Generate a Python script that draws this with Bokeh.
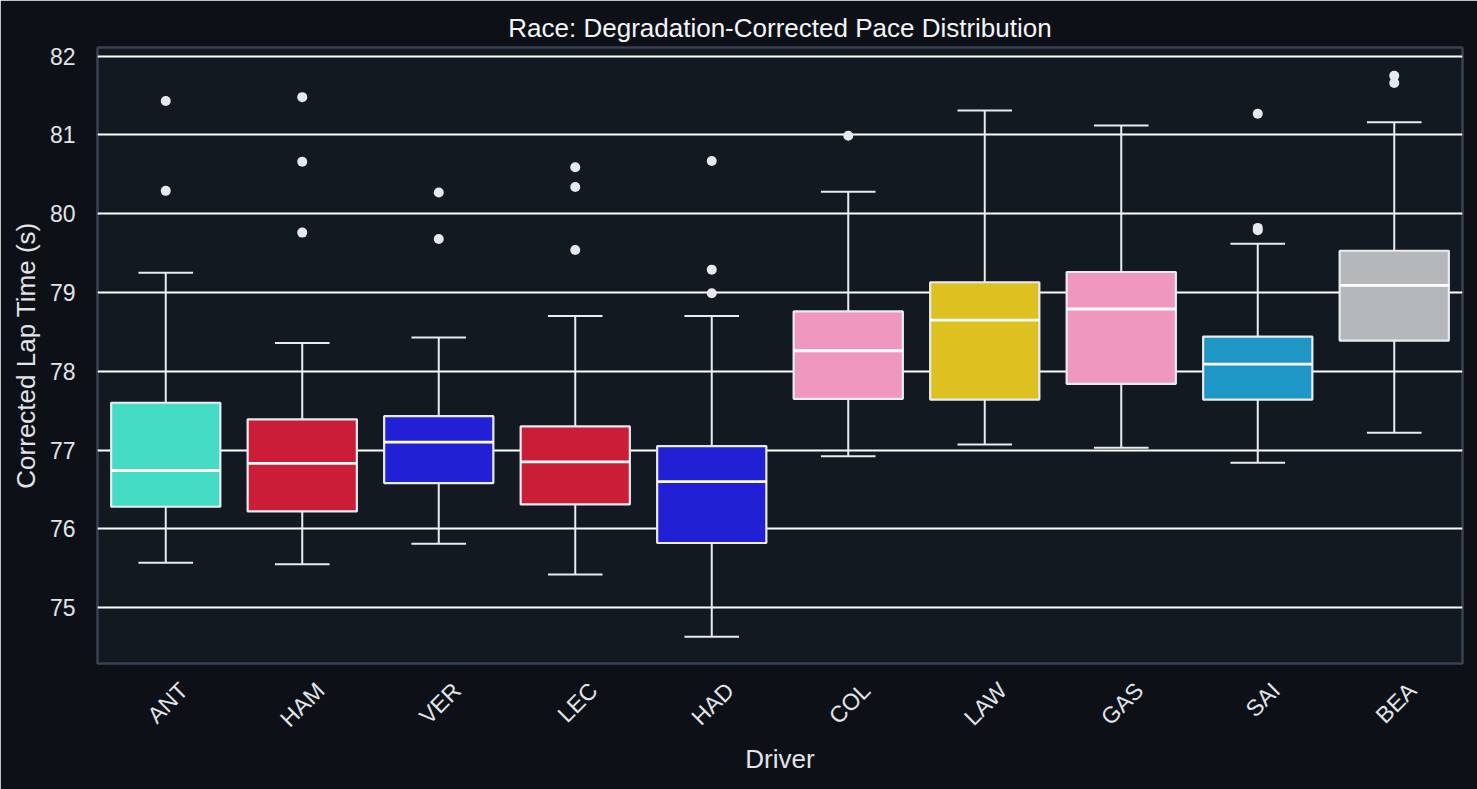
from bokeh.plotting import figure
from bokeh.models import Range1d, LinearAxis, FixedTicker, ColumnDataSource
from bokeh.embed import file_html
from bokeh.resources import INLINE

# ---- data ----
drivers = ["ANT", "HAM", "VER", "LEC", "HAD", "COL", "LAW", "GAS", "SAI", "BEA"]
box_colors = ["#44dcc5", "#cb1d37", "#2220d4", "#cb1d37", "#2220d4",
              "#f097c0", "#dcc120", "#f097c0", "#1e96c6", "#b5b8bb"]
q1 = [76.28, 76.22, 76.58, 76.31, 75.82, 77.65, 77.64, 77.84, 77.64, 78.39]
median = [76.74, 76.83, 77.10, 76.85, 76.60, 78.26, 78.65, 78.79, 78.09, 79.09]
q3 = [77.60, 77.39, 77.43, 77.30, 77.05, 78.76, 79.13, 79.26, 78.44, 79.53]
whisker_low = [75.57, 75.55, 75.81, 75.42, 74.63, 76.92, 77.07, 77.03, 76.84, 77.22]
whisker_high = [79.25, 78.36, 78.43, 78.70, 78.70, 80.28, 81.31, 81.12, 79.62, 81.16]
outlier_driver = ["ANT", "ANT", "HAM", "HAM", "HAM", "VER", "VER", "LEC", "LEC", "LEC",
                  "HAD", "HAD", "HAD", "COL", "SAI", "SAI", "SAI", "BEA", "BEA"]
outlier_time = [81.43, 80.29, 81.48, 80.66, 79.76, 80.27, 79.68, 80.59, 80.34, 79.54,
                80.67, 79.29, 78.99, 80.99, 81.27, 79.79, 79.82, 81.75, 81.66]
y_ticks = [75, 76, 77, 78, 79, 80, 81, 82]

title = "Race: Degradation-Corrected Pace Distribution"
x_label = "Driver"
y_label = "Corrected Lap Time (s)"

# ---- styling ----
FONT = "Liberation Sans"
TEXT = "#e1e4e8"
EDGE = "#e8ebf2"
BOX_W = 0.8
CAP_W = 0.4

xs = list(range(len(drivers)))
src = ColumnDataSource(dict(
    x=xs,
    left=[x - BOX_W / 2 for x in xs],
    right=[x + BOX_W / 2 for x in xs],
    capl=[x - CAP_W / 2 for x in xs],
    capr=[x + CAP_W / 2 for x in xs],
    q1=q1, q3=q3, med=median, lo=whisker_low, hi=whisker_high,
    color=box_colors,
))
out_src = ColumnDataSource(dict(
    x=[drivers.index(d) for d in outlier_driver],
    y=outlier_time,
))

p = figure(
    width=1477, height=789,
    x_range=Range1d(-0.5, 9.5), y_range=Range1d(74.29, 82.11),
    output_backend="svg", toolbar_location=None,
    x_axis_location=None,
    min_border_left=97, min_border_right=15, min_border_top=47, min_border_bottom=126,
    background_fill_color="#131920", border_fill_color="#0d1117",
)

p.outline_line_color = "#3a4252"
p.outline_line_width = 2.5

p.xgrid.grid_line_color = None
p.ygrid.grid_line_color = "#ffffff"
p.ygrid.grid_line_width = 2
p.ygrid.ticker = FixedTicker(ticks=y_ticks)

# y axis
ya = p.yaxis[0]
ya.ticker = FixedTicker(ticks=y_ticks)
ya.axis_line_color = None
ya.major_tick_line_color = None
ya.minor_tick_line_color = None
ya.major_tick_out = 0
ya.major_tick_in = 0
ya.major_label_standoff = 22
ya.major_label_text_font = FONT
ya.major_label_text_font_size = "23px"
ya.major_label_text_color = TEXT
ya.axis_label = y_label
ya.axis_label_text_font = FONT
ya.axis_label_text_font_size = "26px"
ya.axis_label_text_font_style = "normal"
ya.axis_label_text_color = TEXT
ya.axis_label_standoff = 6

# x axis on a slightly shifted range so rotated labels sit centred on their boxes
shift = 0.132
p.extra_x_ranges = {"lbl": Range1d(-0.5 - shift, 9.5 - shift)}
xa = LinearAxis(x_range_name="lbl")
xa.ticker = FixedTicker(ticks=xs)
xa.major_label_overrides = {i: d for i, d in enumerate(drivers)}
xa.major_label_orientation = 0.785398
xa.axis_line_color = None
xa.major_tick_line_color = None
xa.minor_tick_line_color = None
xa.major_tick_out = 0
xa.major_tick_in = 0
xa.major_label_standoff = 23
xa.major_label_text_font = FONT
xa.major_label_text_font_size = "23px"
xa.major_label_text_color = TEXT
xa.axis_label = x_label
xa.axis_label_text_font = FONT
xa.axis_label_text_font_size = "26px"
xa.axis_label_text_font_style = "normal"
xa.axis_label_text_color = TEXT
xa.axis_label_standoff = 0
p.add_layout(xa, "below")

# title
p.title.text = title
p.title.align = "center"
p.title.text_font = FONT
p.title.text_font_size = "26px"
p.title.text_font_style = "normal"
p.title.text_color = "#f5f6f8"
p.title.standoff = 9

# whiskers
p.segment(x0="x", y0="q3", x1="x", y1="hi", source=src, line_color=EDGE, line_width=2)
p.segment(x0="x", y0="q1", x1="x", y1="lo", source=src, line_color=EDGE, line_width=2)
# caps
p.segment(x0="capl", y0="hi", x1="capr", y1="hi", source=src, line_color=EDGE, line_width=2)
p.segment(x0="capl", y0="lo", x1="capr", y1="lo", source=src, line_color=EDGE, line_width=2)
# boxes
p.vbar(x="x", width=BOX_W, bottom="q1", top="q3", source=src,
       fill_color="color", line_color=EDGE, line_width=2.2)
# medians
p.segment(x0="left", y0="med", x1="right", y1="med", source=src,
          line_color="#ffffff", line_width=2.8)
# outliers
p.scatter(x="x", y="y", source=out_src, size=10, fill_color="#e8e9ee", line_color=None)

open("out.html", "w").write(file_html(p, INLINE))
